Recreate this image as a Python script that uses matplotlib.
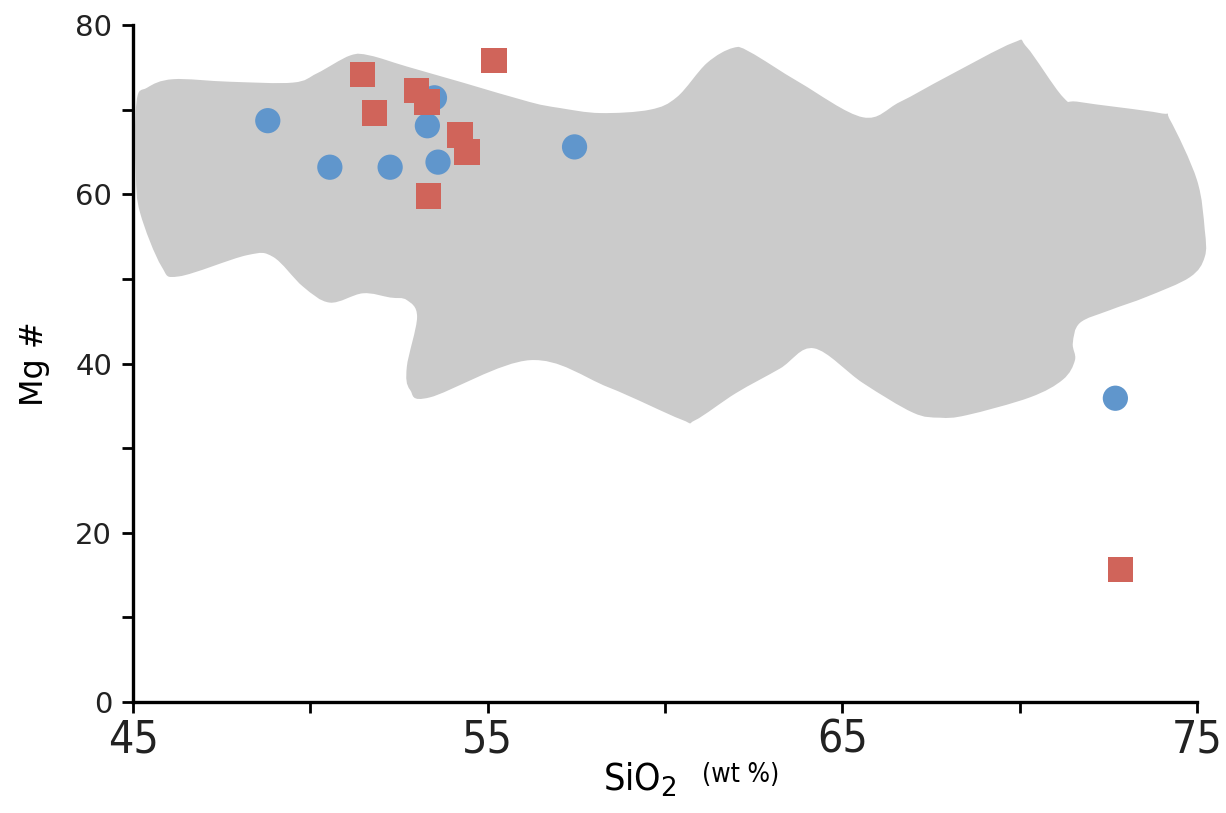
import matplotlib
matplotlib.use('Agg')
import matplotlib.pyplot as plt
from matplotlib.patches import PathPatch
from matplotlib.path import Path


# field outline (SiO2, Mg#), traced clockwise from the left edge
field_x = [45.10, 45.40, 46.13, 47.73, 49.51, 50.19, 51.12, 51.68, 52.72,
           54.30, 56.19, 57.03, 58.17, 59.58, 60.34, 61.18, 61.92, 62.40,
           63.80, 65.58, 66.62, 67.95, 69.81, 70.20, 71.22, 71.70, 73.95,
           74.24, 75.00, 75.22, 75.22, 74.80, 73.59, 72.54, 71.70, 71.50,
           71.56, 71.22, 70.29, 68.51, 67.75, 66.99, 65.58, 64.20,
           63.24, 62.00, 60.85, 60.45, 58.40, 56.20, 53.37, 52.81, 52.72,
           53.01, 52.72, 52.25, 51.48, 50.55, 49.79, 48.95, 48.21, 46.30,
           45.80, 45.20, 45.08]
field_y = [71.0, 72.6, 73.6, 73.3, 73.2, 74.3, 76.4, 76.4, 75.1,
           73.2, 70.9, 70.2, 69.6, 70.0, 71.5, 75.5, 77.3, 76.8,
           73.2, 69.1, 70.9, 73.9, 77.9, 77.4, 71.5, 70.9, 69.6,
           68.8, 61.7, 55.8, 52.6, 50.2, 47.9, 46.3, 44.8, 42.4,
           40.4, 38.1, 36.0, 33.9, 33.6, 34.2, 37.7, 41.8,
           39.4, 36.5, 33.3, 33.4, 37.2, 40.4, 36.0, 36.9, 39.6,
           45.5, 47.5, 47.8, 48.3, 47.2, 49.1, 52.6, 52.8, 50.3,
           51.5, 57.8, 62.5]

circle_x = [48.8, 50.55, 52.25, 53.3, 53.5, 53.6, 57.45, 72.7]
circle_y = [68.7, 63.2, 63.2, 68.1, 71.4, 63.8, 65.6, 35.9]

square_x = [51.46, 51.80, 53.0, 53.29, 54.22, 54.42, 53.33, 55.18, 72.85]
square_y = [74.2, 69.6, 72.3, 70.9, 67.0, 65.0, 59.8, 75.8, 15.7]

x_ticks = [45, 55, 65, 75]
y_ticks = [0, 20, 40, 60, 80]

blue = '#6096cc'
red = '#d0645a'
grey = '#cbcbcb'


def smooth_closed_path(xs, ys, tension=0.5):
    # closed bezier curve through the traced vertices (catmull-rom style)
    n = len(xs)
    verts = [(xs[0], ys[0])]
    codes = [Path.MOVETO]
    for i in range(n):
        p0 = (xs[i - 1], ys[i - 1])
        p1 = (xs[i], ys[i])
        p2 = (xs[(i + 1) % n], ys[(i + 1) % n])
        p3 = (xs[(i + 2) % n], ys[(i + 2) % n])
        c1 = (p1[0] + (p2[0] - p0[0]) * tension / 3,
              p1[1] + (p2[1] - p0[1]) * tension / 3)
        c2 = (p2[0] - (p3[0] - p1[0]) * tension / 3,
              p2[1] - (p3[1] - p1[1]) * tension / 3)
        verts += [c1, c2, p2]
        codes += [Path.CURVE4] * 3
    verts.append((xs[0], ys[0]))
    codes.append(Path.CLOSEPOLY)
    return Path(verts, codes)


def main():
    fig = plt.figure(figsize=(12.26, 8.13), dpi=100)
    ax = fig.add_axes([0.1085, 0.1365, 0.8678, 0.8327])

    field = PathPatch(smooth_closed_path(field_x, field_y),
                      facecolor=grey, edgecolor='none', zorder=1,
                      clip_on=False)
    ax.add_patch(field)

    ax.scatter(circle_x, circle_y, s=330, marker='o', color=blue,
               edgecolors='none', zorder=3)
    ax.scatter(square_x, square_y, s=330, marker='s', color=red,
               edgecolors='none', zorder=4)

    ax.set_xlim(45, 75)
    ax.set_ylim(0, 80)

    for side in ['top', 'right']:
        ax.spines[side].set_visible(False)
    for side in ['left', 'bottom']:
        ax.spines[side].set_linewidth(2.4)
        ax.spines[side].set_color('black')

    ax.set_xticks(range(45, 76, 5))
    ax.set_xticklabels([str(v) if v in x_ticks else '' for v in range(45, 76, 5)],
                       fontsize=32, family='DejaVu Sans', fontstretch='condensed',
                       color='#222222')
    ax.set_yticks(range(0, 81, 10))
    ax.set_yticklabels([str(v) if v in y_ticks else '' for v in range(0, 81, 10)],
                       fontsize=21, family='DejaVu Sans', color='#222222')
    ax.tick_params(axis='both', direction='out', length=8, width=2,
                   color='black')
    ax.tick_params(axis='x', pad=4)
    ax.tick_params(axis='y', pad=7)

    ax.set_ylabel('Mg #', fontsize=23, family='DejaVu Sans', labelpad=18)

    fig.text(0.492, 0.027, r'SiO$_2$', fontsize=27, family='DejaVu Sans',
             fontstretch='condensed', ha='left', va='baseline')
    fig.text(0.573, 0.038, '(wt %)', fontsize=19, family='DejaVu Sans',
             fontstretch='condensed', ha='left', va='baseline')

    fig.savefig('out.png', dpi=100)


if __name__ == '__main__':
    main()
